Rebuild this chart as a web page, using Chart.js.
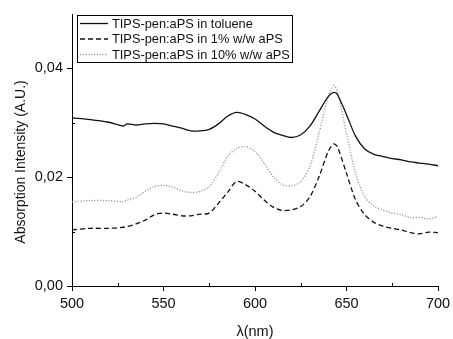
<!DOCTYPE html>
<html>
<head>
<meta charset="utf-8">
<script src="https://cdn.jsdelivr.net/npm/chart.js@4/dist/chart.umd.min.js"></script>
<style>
html,body{margin:0;padding:0;background:#fff;}
#wrap{width:453px;height:339px;position:relative;}
</style>
</head>
<body>
<div id="wrap"><canvas id="c" width="453" height="339"></canvas></div>
<script>
const seriesLabels = ['TIPS-pen:aPS in toluene', 'TIPS-pen:aPS in 1% w/w aPS', 'TIPS-pen:aPS in 10% w/w aPS'];
const xTitle = 'λ(nm)';
const yTitle = 'Absorption Intensity (A.U.)';
const wavelengths = [500,510,520,528,530,535,540,545,550,555,560,565,570,575,580,585,590,595,600,605,610,615,620,625,630,635,640,643,645,650,655,660,665,670,675,680,685,690,695,700];
const toluene = [0.0309,0.0306,0.0301,0.0294,0.0298,0.0296,0.0298,0.0299,0.0298,0.0294,0.0290,0.0285,0.0285,0.0288,0.0298,0.0312,0.0319,0.0315,0.0307,0.0294,0.0283,0.0277,0.0273,0.0278,0.0294,0.0321,0.0348,0.0356,0.0352,0.0315,0.0275,0.0252,0.0242,0.0238,0.0234,0.0232,0.0228,0.0226,0.0224,0.0221];
const onePct = [0.0103,0.0106,0.0106,0.0108,0.0109,0.0114,0.0121,0.0131,0.0134,0.0132,0.0129,0.0129,0.0132,0.0134,0.0152,0.0172,0.0192,0.0186,0.0174,0.0158,0.0145,0.0139,0.0140,0.0146,0.0164,0.0201,0.0247,0.0261,0.0256,0.0207,0.0158,0.0131,0.0117,0.0110,0.0106,0.0103,0.0098,0.0096,0.0099,0.0098];
const tenPct = [0.0155,0.0157,0.0157,0.0155,0.0158,0.0163,0.0174,0.0183,0.0185,0.0182,0.0175,0.0172,0.0174,0.0183,0.0207,0.0238,0.0253,0.0256,0.0247,0.0226,0.0201,0.0186,0.0184,0.0192,0.0220,0.0281,0.0348,0.0368,0.0358,0.0281,0.0207,0.0164,0.0147,0.0140,0.0134,0.0131,0.0126,0.0126,0.0123,0.0128];
const xTicks = [500,550,600,650,700];
const xMinorTicks = [525,575,625,675];
const yTicks = [0.00,0.02,0.04];
const yTickLabels = ['0,00','0,02','0,04'];
const yMinorTicks = [0.01,0.03];

function pts(vals){ return wavelengths.map((w,i)=>({x:w,y:vals[i]})); }

const FONT = '"Liberation Sans", Arial, sans-serif';
const styles = [
  {color:'#111', dash:[], width:1.3},
  {color:'#111', dash:[5,3], width:1.3},
  {color:'#999', dash:[1.2,1.6], width:1.3}
];
const seriesValues = [toluene, onePct, tenPct];

const minorTicksPlugin = {
  id:'minorTicks',
  afterDraw(chart){
    const ctx = chart.ctx, xs = chart.scales.x, ys = chart.scales.y, ca = chart.chartArea;
    ctx.save();
    ctx.strokeStyle = '#000'; ctx.lineWidth = 1;
    ctx.beginPath();
    xMinorTicks.forEach(v=>{ const px = Math.round(xs.getPixelForValue(v))+0.5; ctx.moveTo(px, ca.bottom); ctx.lineTo(px, ca.bottom-3); });
    yMinorTicks.forEach(v=>{ const py = Math.round(ys.getPixelForValue(v))+0.5; ctx.moveTo(ca.left, py); ctx.lineTo(ca.left+3, py); });
    ctx.stroke();
    // y axis title
    ctx.save();
    ctx.translate(21, (ca.top + ca.bottom)/2 + 12);
    ctx.rotate(-Math.PI/2);
    ctx.font = '14px ' + FONT;
    ctx.fillStyle = '#111';
    ctx.textAlign = 'center'; ctx.textBaseline = 'middle';
    ctx.fillText(yTitle, 0, 0);
    ctx.restore();
    ctx.restore();
  }
};

const legendPlugin = {
  id:'boxLegend',
  afterDraw(chart){
    const ctx = chart.ctx;
    const left = 77.5, top = 15.5, w = 215, h = 47;
    ctx.save();
    ctx.fillStyle = '#fff';
    ctx.fillRect(left, top, w, h);
    ctx.strokeStyle = '#000'; ctx.lineWidth = 1; ctx.setLineDash([]);
    ctx.strokeRect(left, top, w, h);
    ctx.font = '12.8px ' + FONT;
    ctx.textBaseline = 'middle';
    ctx.textAlign = 'left';
    chart.data.datasets.forEach((ds,i)=>{
      const y = 23.5 + i*15.5;
      ctx.strokeStyle = ds.borderColor; ctx.lineWidth = ds.borderWidth;
      ctx.setLineDash(ds.borderDash || []);
      ctx.beginPath(); ctx.moveTo(80, y); ctx.lineTo(108, y); ctx.stroke();
      ctx.fillStyle = '#111';
      ctx.fillText(ds.label, 112, y+0.5);
    });
    ctx.restore();
  }
};

new Chart(document.getElementById('c'), {
  type:'line',
  data:{
    datasets: seriesValues.map((vals,i)=>({
      label: seriesLabels[i],
      data: pts(vals),
      borderColor: styles[i].color,
      borderDash: styles[i].dash,
      borderWidth: styles[i].width,
      pointRadius: 0,
      fill: false,
      tension: 0.3
    }))
  },
  options:{
    responsive:false,
    animation:false,
    events:[],
    layout:{padding:{top:14,right:15,left:0,bottom:0}},
    plugins:{legend:{display:false}, tooltip:{enabled:false}},
    scales:{
      x:{
        type:'linear', min:500, max:700,
        afterFit(s){ s.height = 53; s.paddingRight = 0; s.paddingLeft = 0; },
        afterBuildTicks(s){ s.ticks = xTicks.map(v=>({value:v})); },
        border:{display:true,color:'#000',width:1},
        grid:{display:true, drawOnChartArea:false, drawTicks:true, tickLength:5, color:'#000'},
        ticks:{color:'#111', padding:4, maxRotation:0, font:{family:FONT, size:14.5}},
        title:{display:true, text:xTitle, color:'#111', padding:{top:0,bottom:-2}, font:{family:FONT, size:14.5}}
      },
      y:{
        type:'linear', min:0, max:0.05,
        afterFit(s){ s.width = 72; s.paddingTop = 0; s.paddingBottom = 0; },
        afterBuildTicks(s){ s.ticks = yTicks.map(v=>({value:v})); },
        border:{display:true,color:'#000',width:1},
        grid:{display:true, drawOnChartArea:false, drawTicks:true, tickLength:5, color:'#000'},
        ticks:{color:'#111', padding:4, font:{family:FONT, size:14.5},
          callback:(v)=>{ const i = yTicks.findIndex(t=>Math.abs(t-v)<1e-9); return i>=0 ? yTickLabels[i] : ''; }},
        title:{display:false}
      }
    }
  },
  plugins:[minorTicksPlugin, legendPlugin]
});
</script>
</body>
</html>
